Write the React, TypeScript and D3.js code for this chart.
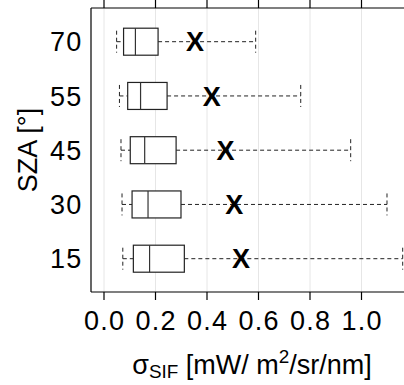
import React from "react";
import * as d3 from "d3";

const categories = ["15", "30", "45", "55", "70"];
const whiskerLow = [0.073, 0.07, 0.066, 0.06, 0.049];
const q1 = [0.114, 0.109, 0.102, 0.092, 0.076];
const median = [0.177, 0.171, 0.158, 0.142, 0.122];
const q3 = [0.312, 0.299, 0.28, 0.245, 0.21];
const whiskerHigh = [1.16, 1.099, 0.958, 0.764, 0.589];
const means = [0.532, 0.506, 0.472, 0.418, 0.353];
const xTicks = [0, 0.2, 0.4, 0.6, 0.8, 1.0];
const xTicksTop = [0, 0.2, 0.4, 0.6, 0.8, 1.0, 1.2];

const W = 404;
const H = 385;
const FONT = "'Liberation Sans', Arial, Helvetica, sans-serif";

export default function App() {
  const x = d3.scaleLinear().domain([0, 1]).range([104, 361.5]);
  const y = d3.scalePoint<string>().domain(categories).range([258.7, 41.7]);
  const left = 91;
  const top = 8;
  const bottom = 292;
  const right = W + 10;
  const boxH = 27;
  const capH = 22;
  const fs = 27;

  return (
    <svg
      width={W}
      height={H}
      style={{ position: "absolute", left: 0, top: 0, background: "#fff" }}
      fontFamily={FONT}
    >
      <rect x={0} y={0} width={W} height={H} fill="#fff" />
      {/* grid */}
      {xTicksTop.map((t) => (
        <line key={"g" + t} x1={x(t)} x2={x(t)} y1={top} y2={bottom} stroke="#e6e6e6" strokeWidth={1} />
      ))}
      {/* frame */}
      <line x1={left} x2={right} y1={top} y2={top} stroke="#000" strokeWidth={1.2} />
      <line x1={left} x2={right} y1={bottom} y2={bottom} stroke="#000" strokeWidth={1.2} />
      <line x1={left} x2={left} y1={top} y2={bottom} stroke="#000" strokeWidth={1.2} />
      {/* top ticks */}
      {xTicksTop.map((t) => (
        <line key={"tt" + t} x1={x(t)} x2={x(t)} y1={0} y2={top} stroke="#000" strokeWidth={1.2} />
      ))}
      {/* bottom ticks */}
      {xTicks.map((t) => (
        <g key={"bt" + t}>
          <line x1={x(t)} x2={x(t)} y1={bottom} y2={bottom + 8} stroke="#000" strokeWidth={1.2} />
          <text x={x(t) + 0.6} y={330} textAnchor="middle" fontSize={fs} letterSpacing={1.2} fill="#000">
            {d3.format(".1f")(t)}
          </text>
        </g>
      ))}
      {/* boxes */}
      {categories.map((c, i) => {
        const cy = y(c)!;
        return (
          <g key={c}>
            <line x1={x(whiskerLow[i])} x2={x(q1[i])} y1={cy} y2={cy} stroke="#222" strokeDasharray="4,3" strokeWidth={1} />
            <line x1={x(q3[i])} x2={x(whiskerHigh[i])} y1={cy} y2={cy} stroke="#222" strokeDasharray="4,3" strokeWidth={1} />
            <line x1={x(whiskerLow[i])} x2={x(whiskerLow[i])} y1={cy - capH / 2} y2={cy + capH / 2} stroke="#222" strokeDasharray="4,3" strokeWidth={1} />
            <line x1={x(whiskerHigh[i])} x2={x(whiskerHigh[i])} y1={cy - capH / 2} y2={cy + capH / 2} stroke="#222" strokeDasharray="4,3" strokeWidth={1} />
            <rect x={x(q1[i])} y={cy - boxH / 2} width={x(q3[i]) - x(q1[i])} height={boxH} fill="#fff" stroke="#222" strokeWidth={1.2} />
            <line x1={x(median[i])} x2={x(median[i])} y1={cy - boxH / 2} y2={cy + boxH / 2} stroke="#333" strokeWidth={1.2} />
            <text x={x(means[i])} y={cy} dy="0.36em" textAnchor="middle" fontSize={fs} fontWeight="bold" fill="#000">
              X
            </text>
            <text x={82.5} y={cy} dy="0.36em" textAnchor="end" fontSize={fs} letterSpacing={1.2} fill="#000">
              {c}
            </text>
          </g>
        );
      })}
      {/* y title */}
      <text transform={`translate(37,150) rotate(-90)`} textAnchor="middle" fontSize={fs} fill="#000">
        SZA [°]
      </text>
      {/* x title */}
      <text x={252} y={374} textAnchor="middle" fontSize={fs} fill="#000">
        σ<tspan fontSize={fs * 0.7} dy={4}>SIF</tspan>
        <tspan dy={-4}> [mW/ m</tspan>
        <tspan fontSize={fs * 0.7} dy={-11}>2</tspan>
        <tspan dy={11}>/sr/nm]</tspan>
      </text>
    </svg>
  );
}
